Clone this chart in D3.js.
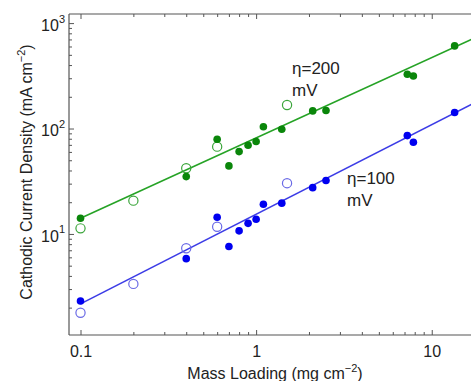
<!DOCTYPE html>
<html>
<head>
<meta charset="utf-8">
<script src="https://cdn.jsdelivr.net/npm/d3@7"></script>
<style>
  body { margin: 0; background: #fff; }
  text { font-family: "Liberation Sans", Arial, sans-serif; fill: #222; }
</style>
</head>
<body>
<div id="container"></div>
<script>
// mass loading (mg cm^-2) of the filled points, shared by both overpotentials
var filledLoading = [0.1, 0.4, 0.6, 0.7, 0.8, 0.9, 1.0, 1.1, 1.4, 2.1, 2.5, 7.26, 7.86, 13.5];
var openLoading = [0.1, 0.2, 0.4, 0.6, 1.5];

// eta = 200 mV
var green200Filled = [14.1, 35.0, 79.1, 44.2, 60.4, 69.5, 75.2, 104, 98.5, 147, 148, 327, 315, 608];
var green200Open = [11.3, 20.7, 42.0, 67.3, 167];
// eta = 100 mV
var blue100Filled = [2.31, 5.83, 14.4, 7.59, 10.7, 12.6, 13.8, 19.1, 19.6, 27.5, 32.1, 85.7, 74.1, 142];
var blue100Open = [1.79, 3.36, 7.31, 11.7, 30.3];

// fitted lines, read at both ends
var fitLoading = [0.1, 20];
var fit200 = [14.1, 798];
var fit100 = [2.17, 196];

var xMajor = [0.1, 1, 10];
var yMajor = [10, 100, 1000];

function zip(xs, ys) {
  return xs.map(function(v, i) { return {x: v, y: ys[i]}; });
}

function minors(decades) {
  var out = [];
  decades.forEach(function(d) {
    for (var k = 2; k <= 9; k++) out.push(k * d);
  });
  return out;
}

var width = 471, height = 381;

var x = d3.scaleLog().domain([0.086, 20]).range([69, 484.6]);
var y = d3.scaleLog().domain([1.1, 1220]).range([335, 14]);

var svg = d3.select("#container").append("svg")
    .attr("width", width)
    .attr("height", height);

var axisColor = "#555";

// frame
var frame = svg.append("g").attr("stroke", axisColor).attr("stroke-width", 1.2).attr("fill", "none");
frame.append("line").attr("x1", x(0.086)).attr("x2", x(20)).attr("y1", y(1.1)).attr("y2", y(1.1));
frame.append("line").attr("x1", x(0.086)).attr("x2", x(20)).attr("y1", y(1220)).attr("y2", y(1220));
frame.append("line").attr("x1", x(0.086)).attr("x2", x(0.086)).attr("y1", y(1.1)).attr("y2", y(1220));

function styleAxis(g) {
  g.select(".domain").remove();
  g.selectAll(".tick line").attr("stroke", axisColor);
}

var xMinor = minors([0.1, 1]);
var yMinor = minors([1, 10, 100]).filter(function(v) { return v >= 1.1; });

// bottom
svg.append("g").attr("transform", "translate(0," + y(1.1) + ")")
    .call(d3.axisBottom(x).tickValues(xMinor).tickSize(-3).tickFormat(""))
    .call(styleAxis);
svg.append("g").attr("transform", "translate(0," + y(1.1) + ")")
    .call(d3.axisBottom(x).tickValues(xMajor).tickSize(-5).tickPadding(11)
      .tickFormat(function(d) { return d >= 1 ? d3.format("d")(d) : d; }))
    .call(styleAxis)
    .selectAll("text").attr("font-size", 16);

// top
svg.append("g").attr("transform", "translate(0," + y(1220) + ")")
    .call(d3.axisTop(x).tickValues(xMinor).tickSize(-3).tickFormat(""))
    .call(styleAxis);
svg.append("g").attr("transform", "translate(0," + y(1220) + ")")
    .call(d3.axisTop(x).tickValues(xMajor).tickSize(-5).tickFormat(""))
    .call(styleAxis);

// left
svg.append("g").attr("transform", "translate(" + x(0.086) + ",0)")
    .call(d3.axisLeft(y).tickValues(yMinor).tickSize(-3).tickFormat(""))
    .call(styleAxis);
var yAx = svg.append("g").attr("transform", "translate(" + x(0.086) + ",0)")
    .call(d3.axisLeft(y).tickValues(yMajor).tickSize(-5).tickPadding(4).tickFormat(""))
    .call(styleAxis);
yAx.selectAll(".tick text").each(function(d) {
  var t = d3.select(this).attr("font-size", 16).attr("dy", "0.45em");
  t.append("tspan").text("10");
  t.append("tspan").attr("font-size", 11).attr("dy", "-0.75em").text(Math.round(Math.log10(d)));
});

// fit lines
var line = d3.line().x(function(d) { return x(d.x); }).y(function(d) { return y(d.y); });
svg.append("path").datum(zip(fitLoading, fit200))
    .attr("d", line).attr("fill", "none").attr("stroke", "#26a326").attr("stroke-width", 1.6);
svg.append("path").datum(zip(fitLoading, fit100))
    .attr("d", line).attr("fill", "none").attr("stroke", "#3c3ce6").attr("stroke-width", 1.6);

function dots(data, color) {
  svg.append("g").selectAll("circle")
      .data(data)
    .enter().append("circle")
      .attr("r", 3.8)
      .attr("cx", function(d) { return x(d.x); })
      .attr("cy", function(d) { return y(d.y); })
      .attr("fill", color);
}
function rings(data, color) {
  svg.append("g").selectAll("circle")
      .data(data)
    .enter().append("circle")
      .attr("r", 4.6)
      .attr("cx", function(d) { return x(d.x); })
      .attr("cy", function(d) { return y(d.y); })
      .attr("fill", "none")
      .attr("stroke", color)
      .attr("stroke-width", 1.2);
}

rings(zip(openLoading, green200Open), "#3aa53a");
rings(zip(openLoading, blue100Open), "#6a6ae6");
dots(zip(filledLoading, green200Filled), "#0a860a");
dots(zip(filledLoading, blue100Filled), "#0000f0");

// annotations
function note(px, py, lines) {
  lines.forEach(function(s, i) {
    svg.append("text").attr("x", px).attr("y", py + i * 21.5)
        .attr("font-size", 17).text(s);
  });
}
note(292, 74, ["\u03b7=200", "mV"]);
note(347, 184, ["\u03b7=100", "mV"]);

// axis titles
var xt = svg.append("text").attr("x", 275).attr("y", 379)
    .attr("text-anchor", "middle").attr("font-size", 16);
xt.append("tspan").text("Mass Loading (mg cm");
xt.append("tspan").attr("font-size", 11).attr("dy", "-0.6em").text("\u22122");
xt.append("tspan").attr("dy", "0.4em").text(")");

var yt = svg.append("text")
    .attr("transform", "translate(32,172) rotate(-90)")
    .attr("text-anchor", "middle").attr("font-size", 16);
yt.append("tspan").text("Cathodic Current Density (mA cm");
yt.append("tspan").attr("font-size", 11).attr("dy", "-0.6em").text("\u22122");
yt.append("tspan").attr("dy", "0.4em").text(")");
</script>
</body>
</html>
